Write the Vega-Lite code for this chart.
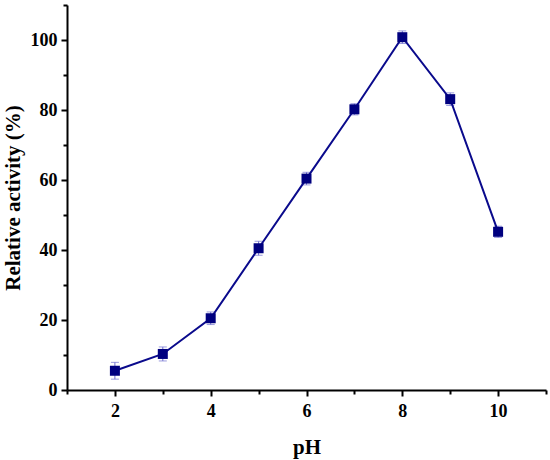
{
  "$schema": "https://vega.github.io/schema/vega-lite/v6.json",
  "description": "Relative activity versus pH, with error bars.",
  "autosize": "none",
  "padding": {"left": 67, "top": 5, "right": 4, "bottom": 70},
  "width": 479,
  "height": 385,
  "config": {
    "view": {"stroke": null},
    "font": "Liberation Serif",
    "axis": {
      "domainColor": "black",
      "domainWidth": 2,
      "tickColor": "black",
      "tickWidth": 2,
      "grid": false,
      "labelFont": "Liberation Serif",
      "labelFontWeight": "bold",
      "labelFontSize": 18,
      "labelColor": "black",
      "titleFont": "Liberation Serif",
      "titleFontWeight": "bold",
      "titleFontSize": 21,
      "titleColor": "black"
    }
  },
  "data": {
    "values": [
      {"pH": 2, "activity": 5.5, "err": 2.4},
      {"pH": 3, "activity": 10.3, "err": 2.0},
      {"pH": 4, "activity": 20.5, "err": 1.8},
      {"pH": 5, "activity": 40.5, "err": 2.0},
      {"pH": 6, "activity": 60.4, "err": 1.8},
      {"pH": 7, "activity": 80.2, "err": 1.6},
      {"pH": 8, "activity": 100.8, "err": 1.8},
      {"pH": 9, "activity": 83.1, "err": 1.8},
      {"pH": 10, "activity": 45.2, "err": 1.6}
    ]
  },
  "resolve": {"axis": {"x": "independent", "y": "independent"}},
  "layer": [
    {
      "mark": {"type": "errorbar", "ticks": {"size": 8, "color": "#7070d0"}, "rule": {"color": "#7070d0", "strokeWidth": 1}},
      "encoding": {
        "x": {
          "field": "pH", "type": "quantitative",
          "scale": {"domain": [1, 11], "nice": false, "zero": false},
          "axis": {"orient": "bottom", "values": [2, 4, 6, 8, 10], "title": "pH", "tickSize": 6, "labelPadding": 6, "titlePadding": 16}
        },
        "y": {
          "field": "activity", "type": "quantitative",
          "scale": {"domain": [0, 110], "nice": false},
          "axis": {"orient": "left", "values": [0, 20, 40, 60, 80, 100], "title": "Relative activity (%)", "tickSize": 6, "labelPadding": 4, "titlePadding": 7}
        },
        "yError": {"field": "err"}
      }
    },
    {
      "mark": {"type": "line", "color": "#0a0a8c", "strokeWidth": 2},
      "encoding": {
        "x": {"field": "pH", "type": "quantitative", "axis": {"orient": "bottom", "values": [1, 3, 5, 7, 9, 11], "labels": false, "title": null, "domain": false, "tickSize": 4}},
        "y": {"field": "activity", "type": "quantitative", "axis": {"orient": "left", "values": [10, 30, 50, 70, 90, 110], "labels": false, "title": null, "domain": false, "tickSize": 4}}
      }
    },
    {
      "mark": {"type": "point", "shape": "square", "filled": true, "size": 100, "color": "#00007f", "opacity": 1},
      "encoding": {
        "x": {"field": "pH", "type": "quantitative", "axis": null},
        "y": {"field": "activity", "type": "quantitative", "axis": null}
      }
    }
  ]
}
